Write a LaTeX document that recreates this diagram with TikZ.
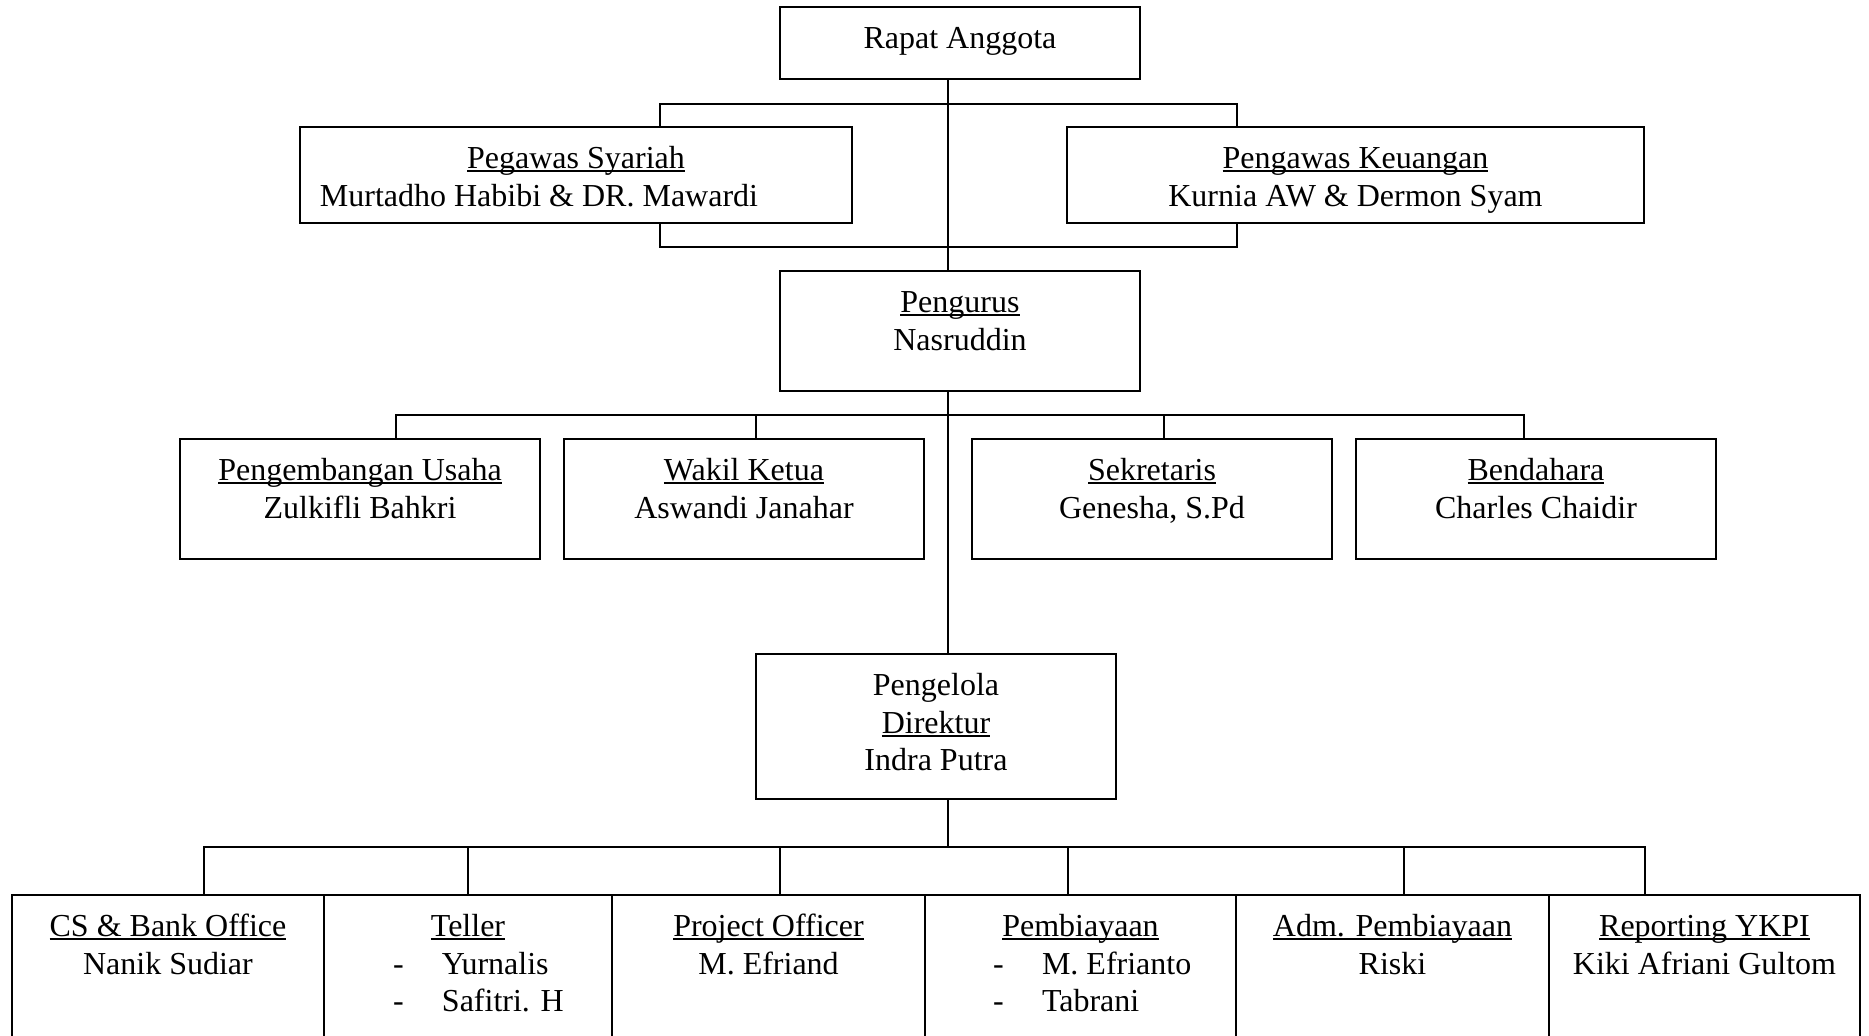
\documentclass[tikz,border=0pt]{standalone}
\usepackage{fontspec}
\setmainfont{Liberation Serif}
\usetikzlibrary{positioning, fit}
\newcommand{\ulin}[1]{\setbox0=\hbox{#1}\rlap{\rule[-1.7pt]{\wd0}{0.9pt}}\box0}
\tikzset{
  orgbox/.style={draw, line width=1pt, inner sep=0pt, outer sep=0pt},
  boxtext/.style={inner sep=0pt, outer sep=0pt, align=center, font=\fontsize{16pt}{18.7pt}\selectfont},
  listtext/.style={boxtext, align=left},
  link/.style={line width=0.9pt}
}

\begin{document}
\begin{tikzpicture}[x=0.5pt, y=-0.5pt]
\useasboundingbox (0,0) rectangle (1869,1036);
\clip (0,0) rectangle (1869,1036);

% boxes
\node[orgbox, fit={(780,7) (1140,79)}] (rapat) {};
\node[orgbox, fit={(300,127) (852,223)}] (syariah) {};
\node[orgbox, fit={(1067,127) (1644,223)}] (keuangan) {};
\node[orgbox, fit={(780,271) (1140,391)}] (pengurus) {};
\node[orgbox, fit={(180,439) (540,559)}] (usaha) {};
\node[orgbox, fit={(564,439) (924,559)}] (wakil) {};
\node[orgbox, fit={(972,439) (1332,559)}] (sekretaris) {};
\node[orgbox, fit={(1356,439) (1716,559)}] (bendahara) {};
\node[orgbox, fit={(756,654) (1116,799)}] (pengelola) {};
\node[orgbox, fit={(12,895) (324,1100)}] (csbank) {};
\node[orgbox, fit={(324,895) (612,1100)}] (teller) {};
\node[orgbox, fit={(612,895) (925,1100)}] (projoff) {};
\node[orgbox, fit={(925,895) (1236,1100)}] (pembiayaan) {};
\node[orgbox, fit={(1236,895) (1549,1100)}] (admpemb) {};
\node[orgbox, fit={(1549,895) (1860,1100)}] (ykpi) {};

% texts
\node[boxtext, below=7.8pt of rapat.north] (rapat-t) {\strut Rapat Anggota};
\node[boxtext, below=7.8pt of syariah.north] (syariah-t) {\strut\ulin{Pegawas Syariah}\\Murtadho Habibi \& DR. Mawardi\kern37pt};
\node[boxtext, below=7.8pt of keuangan.north] (keuangan-t) {\strut\ulin{Pengawas Keuangan}\\Kurnia AW \& Dermon Syam};
\node[boxtext, below=7.8pt of pengurus.north] (pengurus-t) {\strut\ulin{Pengurus}\\Nasruddin};
\node[boxtext, below=7.8pt of usaha.north] (usaha-t) {\strut\ulin{Pengembangan Usaha}\\Zulkifli Bahkri};
\node[boxtext, below=7.8pt of wakil.north] (wakil-t) {\strut\ulin{Wakil Ketua}\\Aswandi Janahar};
\node[boxtext, below=7.8pt of sekretaris.north] (sekretaris-t) {\strut\ulin{Sekretaris}\\Genesha, S.Pd};
\node[boxtext, below=7.8pt of bendahara.north] (bendahara-t) {\strut\ulin{Bendahara}\\Charles Chaidir};
\node[boxtext, below=7.8pt of pengelola.north] (pengelola-t) {\strut Pengelola\\\ulin{Direktur}\\Indra Putra};
\node[boxtext, below=7.8pt of csbank.north] (csbank-t) {\strut\ulin{CS \& Bank Office}\\Nanik Sudiar};
\node[boxtext, below=7.8pt of teller.north] (teller-t) {\strut\ulin{Teller}};
\node[listtext, below right=26.5pt and 34.5pt of teller.north west] (teller-l) {\strut\makebox[24.5pt][l]{-}Yurnalis\\\makebox[24.5pt][l]{-}Safitri. H};
\node[boxtext, below=7.8pt of projoff.north] (projoff-t) {\strut\ulin{Project Officer}\\M. Efriand};
\node[boxtext, below=7.8pt of pembiayaan.north] (pembiayaan-t) {\strut\ulin{Pembiayaan}};
\node[listtext, below right=26.5pt and 34pt of pembiayaan.north west] (pembiayaan-l) {\strut\makebox[24.5pt][l]{-}M. Efrianto\\\makebox[24.5pt][l]{-}Tabrani};
\node[boxtext, below=7.8pt of admpemb.north] (admpemb-t) {\strut\ulin{Adm. Pembiayaan}\\Riski};
\node[boxtext, below=7.8pt of ykpi.north] (ykpi-t) {\strut\ulin{Reporting YKPI}\\Kiki Afriani Gultom};

% connectors
\coordinate (spine) at (948,0);
\coordinate (topl) at (660,104);
\coordinate (topr) at (1237,104);
\coordinate (botl) at (660,247);
\coordinate (botr) at (1237,247);
\draw[link] (rapat.south -| spine) -- (pengurus.north -| spine);
\draw[link] (syariah.north -| topl) -- (topl) -- (topr) -- (keuangan.north -| topr);
\draw[link] (syariah.south -| botl) -- (botl) -- (botr) -- (keuangan.south -| botr);

\coordinate (bu) at (396,415);
\coordinate (bw) at (756,415);
\coordinate (bs) at (1164,415);
\coordinate (bb) at (1524,415);
\draw[link] (usaha.north -| bu) -- (bu) -- (bb) -- (bendahara.north -| bb);
\draw[link] (wakil.north -| bw) -- (bw);
\draw[link] (sekretaris.north -| bs) -- (bs);
\draw[link] (pengurus.south -| spine) -- (pengelola.north -| spine);

\coordinate (kc) at (204,847);
\coordinate (kt) at (468,847);
\coordinate (kp) at (780,847);
\coordinate (kb) at (1068,847);
\coordinate (ka) at (1404,847);
\coordinate (ky) at (1645,847);
\draw[link] (pengelola.south -| spine) -- (spine |- kc);
\draw[link] (csbank.north -| kc) -- (kc) -- (ky) -- (ykpi.north -| ky);
\draw[link] (teller.north -| kt) -- (kt);
\draw[link] (projoff.north -| kp) -- (kp);
\draw[link] (pembiayaan.north -| kb) -- (kb);
\draw[link] (admpemb.north -| ka) -- (ka);
\end{tikzpicture}
\end{document}
